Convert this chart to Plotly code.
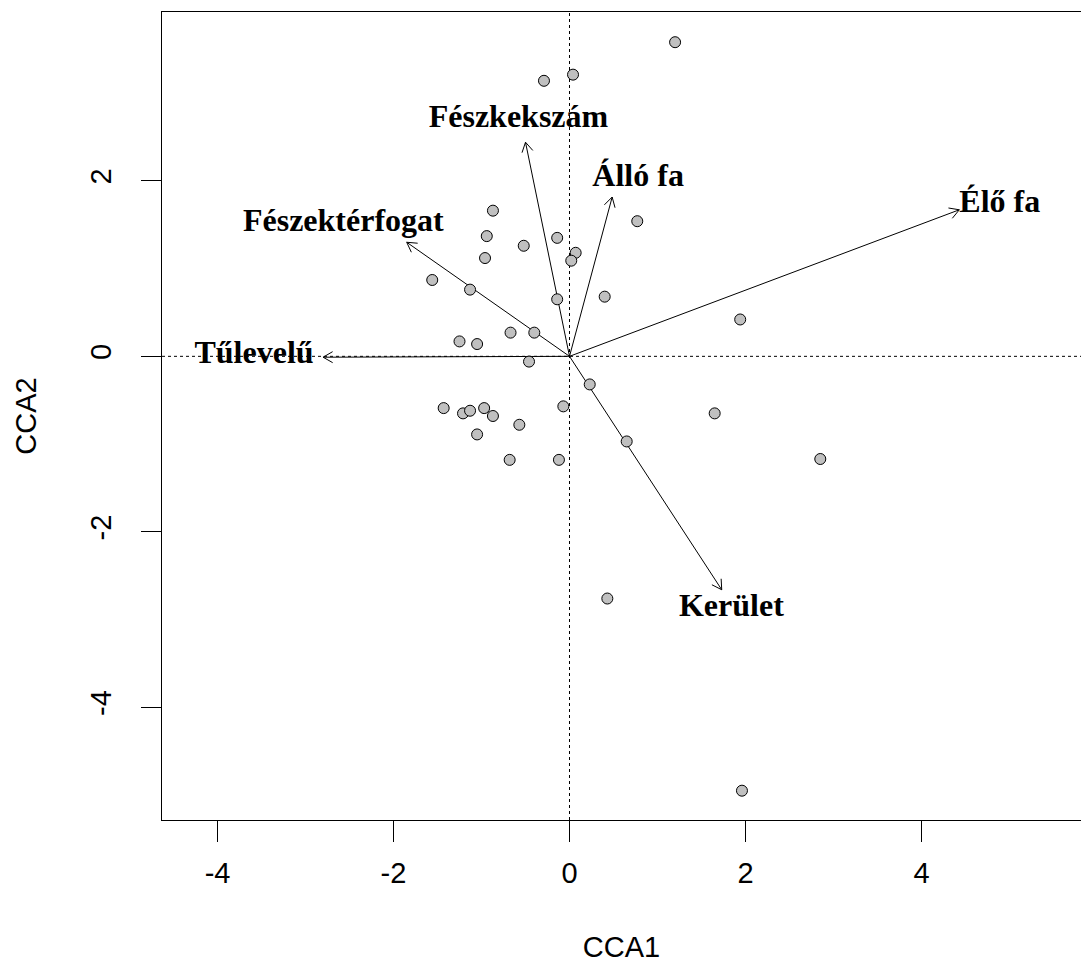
import math
import plotly.graph_objects as go

# Site scores on the first two constrained axes
site_cca1 = [-0.29, 0.04, -0.87, -0.94, -0.52, -0.14, 0.07, 0.02, -0.96, -1.56,
             -1.13, -0.14, 0.40, -0.67, -0.40, -1.25, -1.05, -0.46, 1.20, 0.77,
             1.94, -1.43, -1.21, -1.13, -0.97, -0.87, -0.57, -1.05, -0.07, -0.68,
             -0.12, 0.23, 0.43, 1.65, 0.65, 2.85, 1.96]
site_cca2 = [3.14, 3.21, 1.66, 1.37, 1.26, 1.35, 1.18, 1.09, 1.12, 0.87,
             0.76, 0.65, 0.68, 0.27, 0.27, 0.17, 0.14, -0.06, 3.58, 1.54,
             0.42, -0.59, -0.65, -0.62, -0.59, -0.68, -0.78, -0.89, -0.57, -1.18,
             -1.18, -0.32, -2.76, -0.65, -0.97, -1.17, -4.95]

# Environmental variables (biplot arrows) and their label positions
env_names = ["Tűlevelű", "Fészkekszám", "Fészektérfogat", "Álló fa", "Élő fa", "Kerület"]
env_cca1 = [-2.80, -0.50, -1.85, 0.485, 4.43, 1.73]
env_cca2 = [-0.01, 2.44, 1.30, 1.815, 1.67, -2.66]
label_cca1 = [-3.585, -0.58, -2.57, 0.78, 4.89, 1.84]
label_cca2 = [0.015, 2.71, 1.525, 2.03, 1.735, -2.87]

x_ticks = [-4, -2, 0, 2, 4]
y_ticks = [-4, -2, 0, 2]

# Page geometry
W, H = 1081, 971
M_L, M_R, M_T, M_B = 162, 0, 12, 151
x_range = [-4.631, 5.813]
y_range = [-5.284, 3.924]

# pixels per data unit, used to shape the open arrow heads
sx = (W - M_L - M_R) / (x_range[1] - x_range[0])
sy = (H - M_T - M_B) / (y_range[1] - y_range[0])
HEAD_LEN = 11.0
HEAD_ANG = math.radians(30)

arrow_x, arrow_y = [], []
for tx, ty in zip(env_cca1, env_cca2):
    arrow_x += [0, tx, None]
    arrow_y += [0, ty, None]
    px, py = tx * sx, ty * sy
    n = math.hypot(px, py)
    ux, uy = px / n, py / n
    pts = []
    for s in (1, -1):
        ca, sa = math.cos(s * HEAD_ANG), math.sin(s * HEAD_ANG)
        rx = ux * ca - uy * sa
        ry = ux * sa + uy * ca
        pts.append((tx - HEAD_LEN * rx / sx, ty - HEAD_LEN * ry / sy))
    arrow_x += [pts[0][0], tx, pts[1][0], None]
    arrow_y += [pts[0][1], ty, pts[1][1], None]

fig = go.Figure()

fig.add_trace(go.Scatter(
    x=arrow_x, y=arrow_y, mode="lines",
    line=dict(color="black", width=1),
    hoverinfo="skip",
))

fig.add_trace(go.Scatter(
    x=site_cca1, y=site_cca2, mode="markers",
    marker=dict(symbol="circle", size=11, color="#c0c0c0",
                line=dict(color="black", width=1)),
))

fig.add_trace(go.Scatter(
    x=label_cca1, y=label_cca2, mode="text", text=env_names,
    textposition="middle center",
    textfont=dict(family="Liberation Serif", size=32, color="black", weight="bold"),
))

# dotted cross-hairs through the origin
fig.add_shape(type="line", xref="x", yref="paper", x0=0, x1=0, y0=0, y1=1,
              line=dict(color="black", width=1, dash="dot"), layer="below")
fig.add_shape(type="line", xref="paper", yref="y", x0=0, x1=1, y0=0, y1=0,
              line=dict(color="black", width=1, dash="dot"), layer="below")

axis_font = dict(family="Liberation Sans", size=29, color="black")

fig.update_layout(
    width=W, height=H,
    margin=dict(l=M_L, r=M_R, t=M_T, b=M_B, pad=0),
    paper_bgcolor="white", plot_bgcolor="white",
    showlegend=False,
    xaxis=dict(
        range=x_range, tickvals=x_ticks, ticktext=[str(v) for v in x_ticks],
        ticks="outside", ticklen=21, tickwidth=1, tickcolor="black",
        showline=True, linecolor="black", linewidth=1, mirror=True,
        showgrid=False, zeroline=False, tickfont=axis_font,
        ticklabelstandoff=6,
        title=dict(text="CCA1", font=axis_font, standoff=48),
        automargin=False,
    ),
    yaxis=dict(
        range=y_range, tickvals=y_ticks, ticktext=[str(v) for v in y_ticks],
        ticks="outside", ticklen=20, tickwidth=1, tickcolor="black",
        showline=True, linecolor="black", linewidth=1, mirror=False,
        showgrid=False, zeroline=False, tickfont=axis_font, tickangle=-90,
        ticklabelstandoff=18,
        title=dict(text="CCA2", font=axis_font, standoff=40),
        automargin=False,
    ),
)

fig.write_html("out.html")
